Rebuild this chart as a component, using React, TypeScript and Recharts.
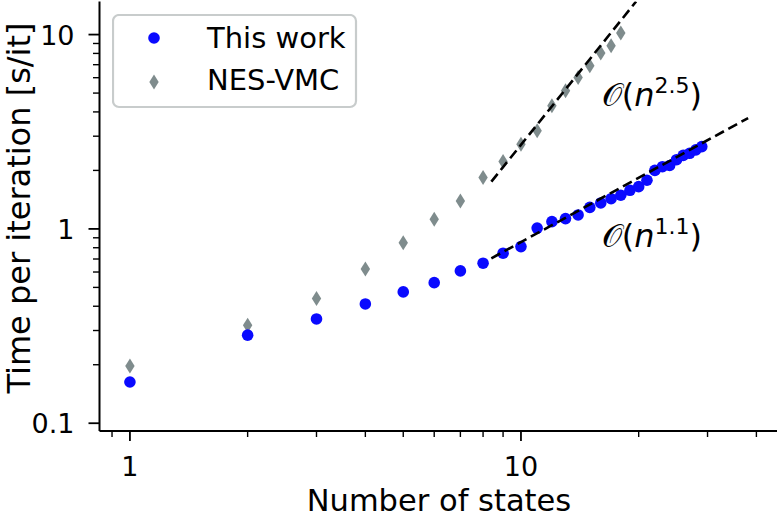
import { ScatterChart, Scatter, XAxis, YAxis, ReferenceDot, Legend } from "recharts";

const FONT = "DejaVu Sans";

// number of states for each series
const statesThisWork = [1, 2, 3, 4, 5, 6, 7, 8, 9, 10, 11, 12, 13, 14, 15, 16, 17, 18, 19, 20, 21, 22, 23, 24, 25, 26, 27, 28, 29];
const timeThisWork = [0.163, 0.284, 0.344, 0.411, 0.474, 0.529, 0.608, 0.666, 0.75, 0.811, 1.01, 1.09, 1.13, 1.18, 1.29, 1.36, 1.43, 1.49, 1.58, 1.65, 1.78, 2.0, 2.09, 2.12, 2.27, 2.39, 2.45, 2.55, 2.65];

const statesNes = [1, 2, 3, 4, 5, 6, 7, 8, 9, 10, 11, 12, 13, 14, 15, 16, 17, 18];
const timeNes = [0.197, 0.319, 0.438, 0.622, 0.849, 1.12, 1.39, 1.84, 2.22, 2.73, 3.2, 4.3, 5.14, 6.01, 6.91, 8.03, 8.75, 10.2];

// dashed scaling guides (end points)
const fitHighN = [8.4, 19.7];
const fitHighT = [1.75, 14.8];
const fitLowN = [8.4, 38.1];
const fitLowT = [0.706, 3.72];

const annotN = [16.1, 16.1];
const annotT = [4.3, 0.81];
const annotPower = ["2.5", "1.1"];

const xMajor = [1, 10];
const xTicks = [0.9, 1, 2, 3, 4, 5, 6, 7, 8, 9, 10, 20, 30, 40];
const yMajor = [0.1, 1, 10];
const yTicks = [0.1, 0.2, 0.3, 0.4, 0.5, 0.6, 0.7, 0.8, 0.9, 1, 2, 3, 4, 5, 6, 7, 8, 9, 10];

const zip = (ns: number[], ts: number[]) => ns.map((n, i) => ({ n, t: ts[i] }));

const thisWork = zip(statesThisWork, timeThisWork);
const nesVmc = zip(statesNes, timeNes);
const fitHigh = zip(fitHighN, fitHighT);
const fitLow = zip(fitLowN, fitLowT);

const BLUE = "#0a0aff";
const GRAY = "#7f8c8d";

const Dot = (props: any) => <circle cx={props.cx} cy={props.cy} r={5.8} fill={BLUE} />;
const Diamond = (props: any) => {
  const { cx, cy } = props;
  return <path d={`M${cx},${cy - 7.5}L${cx + 4.7},${cy}L${cx},${cy + 7.5}L${cx - 4.7},${cy}Z`} fill={GRAY} />;
};

const XTick = (props: any) => {
  const { x, y, payload } = props;
  const major = xMajor.includes(payload.value);
  return (
    <g>
      <line x1={x} y1={y} x2={x} y2={y + (major ? 10 : 6)} stroke="#000" strokeWidth={major ? 1.8 : 1.4} />
      {major && (
        <text x={x} y={y + 45} textAnchor="middle" fontFamily={FONT} fontSize={27} fill="#000">
          {payload.value}
        </text>
      )}
    </g>
  );
};

const YTick = (props: any) => {
  const { x, y, payload } = props;
  const major = yMajor.includes(payload.value);
  return (
    <g>
      <line x1={x} y1={y} x2={x - (major ? 11 : 6.5)} y2={y} stroke="#000" strokeWidth={major ? 1.8 : 1.4} />
      {major && (
        <text x={x - 25} y={y + 10} textAnchor="end" fontFamily={FONT} fontSize={27} fill="#000">
          {payload.value}
        </text>
      )}
    </g>
  );
};

const XTitle = () => (
  <text x={439} y={511} textAnchor="middle" fontFamily={FONT} fontSize={30.5} fill="#000">
    Number of states
  </text>
);

const YTitle = () => (
  <text x={30} y={208} transform="rotate(-90 30 208)" textAnchor="middle" fontFamily={FONT} fontSize={32} fill="#000">
    Time per iteration [s/it]
  </text>
);

const LegendBox = () => (
  <svg width={246} height={95} style={{ display: "block" }}>
    <rect x={1} y={1} width={243} height={92} rx={6} fill="#fff" fillOpacity={0.8} stroke="#c8cccc" strokeWidth={2.2} />
    <Dot cx={42} cy={24} />
    <text x={95} y={34} fontFamily={FONT} fontSize={29} fill="#000">This work</text>
    <Diamond cx={42} cy={68} />
    <text x={95} y={76} fontFamily={FONT} fontSize={29} fill="#000">NES-VMC</text>
  </svg>
);

const Annot = (power: string) => (props: any) => (
  <text x={props.cx} y={props.cy} fontFamily={FONT} fontSize={32} fill="#000">
    <tspan>𝒪(</tspan>
    <tspan fontStyle="italic">n</tspan>
    <tspan dy={-13} fontSize={22}>{power}</tspan>
    <tspan dy={13}>)</tspan>
  </text>
);

export default function App() {
  return (
    <div style={{ position: "relative", width: 780, height: 518 }}>
      <style>{`body{margin:0}`}</style>
      <ScatterChart width={780} height={518} margin={{ top: 1.5, right: 3, bottom: 0, left: 0 }}>
        <XAxis
          dataKey="n"
          type="number"
          scale="log"
          domain={[0.836, 45.16]}
          allowDataOverflow
          ticks={xTicks}
          interval={0}
          height={87}
          tickSize={0}
          tickMargin={0}
          tick={<XTick />}
          axisLine={{ stroke: "#000", strokeWidth: 2 }}
          tickLine={false}
          label={{ content: () => <XTitle /> }}
        />
        <XAxis xAxisId="top" orientation="top" type="number" scale="log" domain={[0.836, 45.16]} height={0} tick={false} tickLine={false} axisLine={{ stroke: "#000", strokeWidth: 2 }} />
        <YAxis
          dataKey="t"
          type="number"
          scale="log"
          domain={[0.0912, 14.8]}
          allowDataOverflow
          ticks={yTicks}
          interval={0}
          width={99.5}
          tickSize={0}
          tickMargin={0}
          tick={<YTick />}
          axisLine={{ stroke: "#000", strokeWidth: 2 }}
          tickLine={false}
          label={{ content: () => <YTitle /> }}
        />
        <YAxis yAxisId="right" orientation="right" type="number" scale="log" domain={[0.0912, 14.8]} width={0} tick={false} tickLine={false} axisLine={{ stroke: "#000", strokeWidth: 2 }} />
        <Scatter name="NES-VMC" data={nesVmc} shape={<Diamond />} isAnimationActive={false} />
        <Scatter name="This work" data={thisWork} shape={<Dot />} isAnimationActive={false} />
        <Scatter data={fitHigh} legendType="none" shape={() => <g />} line={{ stroke: "#000", strokeWidth: 2.6, strokeDasharray: "10 5" }} isAnimationActive={false} />
        <Scatter data={fitLow} legendType="none" shape={() => <g />} line={{ stroke: "#000", strokeWidth: 2.6, strokeDasharray: "10 5" }} isAnimationActive={false} />
        {annotN.map((n, i) => (
          <ReferenceDot key={i} x={n} y={annotT[i]} r={0} shape={Annot(annotPower[i])} />
        ))}
        <Legend
          layout="horizontal"
          verticalAlign="middle"
          align="center"
          content={() => <LegendBox />}
          wrapperStyle={{ left: 112, top: 14, width: 246, height: 95 }}
        />
      </ScatterChart>
    </div>
  );
}
